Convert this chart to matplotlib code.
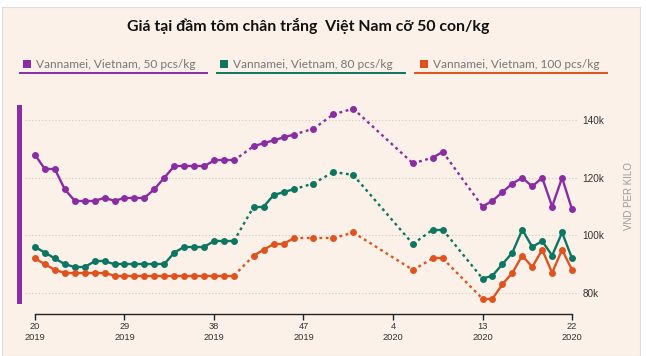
import numpy as np
import matplotlib
matplotlib.use("Agg")
import matplotlib.pyplot as plt
from matplotlib.patches import Rectangle
from matplotlib.lines import Line2D

# weeks counted from week 20 of 2019 (week 22 of 2020 = 54)
weeks = list(range(0, 21)) + list(range(22, 27)) + [28, 30, 32, 38, 40, 41] + list(range(45, 55))

price_50 = [128, 123, 123, 116, 112, 112, 112, 113, 112, 113, 113, 113, 116, 120, 124, 124, 124, 124, 126, 126, 126,
            131, 132, 133, 134, 135,
            137, 142, 144, 125, 127, 129,
            110, 112, 115, 118, 120, 117, 120, 110, 120, 109]
price_80 = [96, 94, 92, 90, 89, 89, 91, 91, 90, 90, 90, 90, 90, 90, 94, 96, 96, 96, 98, 98, 98,
            110, 110, 114, 115, 116,
            118, 122, 121, 97, 102, 102,
            85, 86, 90, 94, 102, 96, 98, 93, 101, 92]
price_100 = [92, 90, 88, 87, 87, 87, 87, 87, 86, 86, 86, 86, 86, 86, 86, 86, 86, 86, 86, 86, 86,
             93, 95, 97, 97, 99,
             99, 99, 101, 88, 92, 92,
             78, 78, 83, 87, 93, 89, 95, 87, 95, 88]

series_names = ["Vannamei, Vietnam, 50 pcs/kg", "Vannamei, Vietnam, 80 pcs/kg", "Vannamei, Vietnam, 100 pcs/kg"]
tick_pos = [0, 9, 18, 27, 36, 45, 54]
tick_labels = ["20\n2019", "29\n2019", "38\n2019", "47\n2019", "4\n2020", "13\n2020", "22\n2020"]
y_ticks = [80, 100, 120, 140]
y_tick_labels = ["80k", "100k", "120k", "140k"]

colors = ["#8a2ca3", "#0c7663", "#e0531f"]
bg = "#fbf1e8"

W, H = 646, 356
fig = plt.figure(figsize=(W / 100, H / 100), dpi=100)
fig.patch.set_facecolor("white")


def fx(px):
    return px / W


def fy(py):
    return 1 - py / H


# cream panel
fig.patches.append(Rectangle((fx(2), 0), fx(638), fy(7), transform=fig.transFigure,
                             facecolor=bg, edgecolor="#dddddd", linewidth=0.8, zorder=-10))
# purple bar on the left
fig.patches.append(Rectangle((fx(17), fy(304)), fx(5), fy(105) - fy(304), transform=fig.transFigure,
                             facecolor=colors[0], edgecolor="none", zorder=-5))

ax = fig.add_axes([fx(25), fy(314), fx(578) - fx(25), fy(100) - fy(314)])
ax.set_facecolor("none")

for vals, c in zip([price_50, price_80, price_100], colors):
    for k in range(len(weeks) - 1):
        seg_x = weeks[k:k + 2]
        seg_y = vals[k:k + 2]
        if weeks[k + 1] - weeks[k] == 1:
            ax.plot(seg_x, seg_y, color=c, linewidth=1.7, solid_capstyle="round", zorder=3)
        else:
            ax.plot(seg_x, seg_y, color=c, linewidth=1.7, linestyle=(0, (1.2, 1.5)), zorder=3)
    ax.plot(weeks, vals, "o", color=c, markersize=5, markeredgewidth=0, zorder=4)

ax.set_xlim(-1.0, 54.6)
ax.set_ylim(72.7, 147)

for s in ["top", "left", "right"]:
    ax.spines[s].set_visible(False)
ax.spines["bottom"].set_bounds(0, 54)
ax.spines["bottom"].set_color("#222222")
ax.spines["bottom"].set_linewidth(1.0)

ax.set_xticks(tick_pos)
ax.set_xticklabels(tick_labels, fontsize=6.7, color="#333333", family="Liberation Sans")
ax.tick_params(axis="x", direction="out", length=4, width=1.0, color="#222222", pad=2)

ax.yaxis.tick_right()
ax.set_yticks(y_ticks)
ax.set_yticklabels(y_tick_labels, fontsize=7.2, color="#333333", family="Liberation Sans")
ax.tick_params(axis="y", length=0, pad=3)
ax.grid(axis="y", color="#cfc8c2", linestyle=(0, (1, 2)), linewidth=0.8)

fig.text(fx(629), fy(196), "VND PER KILO", rotation=90, ha="center", va="center",
         fontsize=7, color="#9a9a9a", family="Liberation Sans")

fig.text(fx(308), fy(26), "Giá tại đầm tôm chân trắng  Việt Nam cỡ 50 con/kg", ha="center", va="center",
         fontsize=11.4, fontweight="bold", family="Lato", color="#111111")

# legend
legend_groups = [(20, 207, 23), (217, 405, 220), (415, 607, 420)]
for (x0, x1, sq), name, c in zip(legend_groups, series_names, colors):
    fig.patches.append(Rectangle((fx(sq), fy(68)), fx(8), fy(60) - fy(68), transform=fig.transFigure,
                                 facecolor=c, edgecolor="none"))
    fig.text(fx(sq + 13), fy(65), name, ha="left", va="center", fontsize=8.6, color="#777777", family="Lato")
    fig.lines.append(Line2D([fx(x0), fx(x1)], [fy(73), fy(73)], transform=fig.transFigure,
                            color=c, linewidth=1.4))

fig.savefig("out.png", dpi=100, facecolor=fig.get_facecolor())
